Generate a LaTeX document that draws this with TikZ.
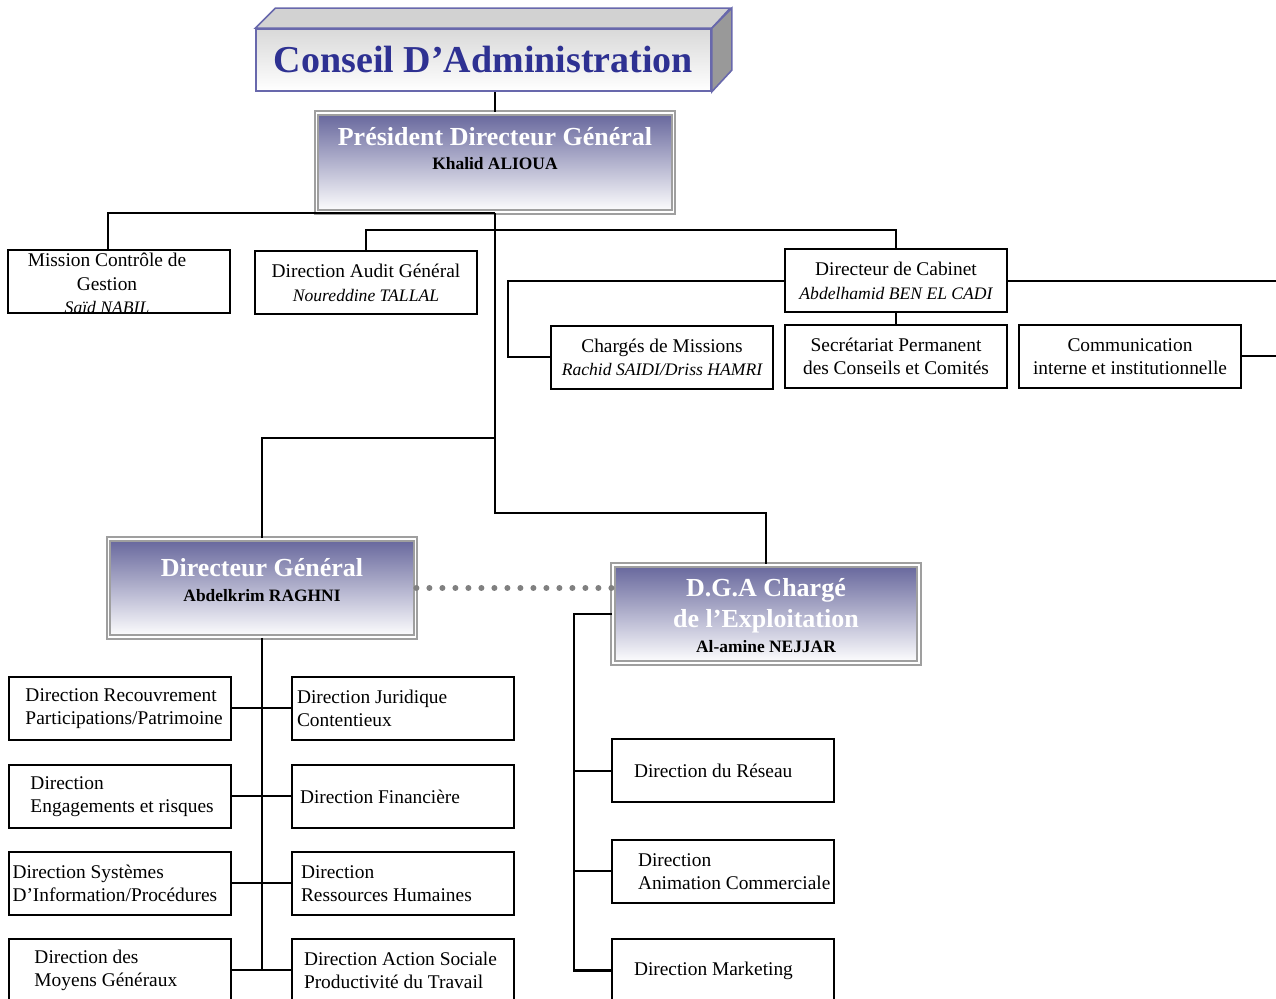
\documentclass[tikz,border=0pt]{standalone}
\usepackage{fontspec}
\setmainfont{Liberation Serif}
\definecolor{slate}{RGB}{102,102,156}
\definecolor{navy}{RGB}{46,49,146}
\definecolor{rim}{RGB}{104,104,172}
\newcommand{\headbox}[3]{\parbox[c][#1][t]{#2}{\centering #3}}
\newcommand{\titfont}{\fontsize{13}{15.5}\selectfont\bfseries}
\newcommand{\persfont}{\fontsize{8.7}{12.25}\selectfont\bfseries}
\newcommand{\persit}[1]{{\fontsize{8.8}{11.75}\selectfont\itshape #1}}

\begin{document}
\begin{tikzpicture}[x=0.5pt, y=-0.5pt, line width=1pt,
    basebox/.style={rectangle, draw=black, line width=1pt, text width=111pt,
        minimum height=31.5pt, inner xsep=0pt, inner ysep=0pt,
        font=\fontsize{9.7}{11.75}\selectfont},
    cbox/.style={basebox, align=flush center},
    lbox/.style={basebox, align=flush left, execute at begin node={\leftskip=#1}},
    chief/.style={rectangle, draw=gray!75, line width=0.9pt, double=white,
        double distance=0.9pt, top color=slate, middle color=slate!45,
        bottom color=white, inner sep=0pt, text=white, font=\titfont},
    board/.style={rectangle, draw=rim, line width=0.8pt, top color=gray!30,
        bottom color=white, minimum width=227.5pt, minimum height=31pt,
        inner sep=0pt, text=navy, font=\fontsize{19}{22}\selectfont\bfseries},
    dotline/.style={draw=gray, line width=3pt, line cap=round,
        dash pattern=on 0pt off 6.5pt}]
\useasboundingbox (0,0) rectangle (1276,999);

\node (ca)[board] at (483.5, 60) {Conseil D’Administration};
\draw [draw=rim, line width=0.8pt, fill=gray!35] (ca.north west) -- ++(20,-20) -- ++(455,0) -- (ca.north east) -- cycle;
\draw [draw=rim, line width=0.8pt, fill=gray!80] (ca.north east) -- ++(20,-20) -- ++(0,62) -- (ca.south east) -- cycle;

\node (pdg)[chief] at (495, 162.5) {\headbox{49.5pt}{178.5pt}{\rule{0pt}{16.25pt}Président Directeur Général\par\persfont\textcolor{black}{Khalid ALIOUA}}};

\node (mcg)[cbox, text depth=21.7pt, execute at begin node={\rightskip=12pt plus 1fil}] at (119, 281.5) {Mission Contrôle de\\Gestion\\\persit{Saïd NABIL}};
\node (dag)[cbox] at (366, 283) {Direction Audit Général\\\persit{Noureddine TALLAL}};
\node (cab)[cbox] at (896, 281) {Directeur de Cabinet\\\persit{Abdelhamid BEN EL CADI}};
\node (cdm)[cbox] at (662, 357.5) {Chargés de Missions\\\persit{Rachid SAIDI/Driss HAMRI}};
\node (spc)[cbox] at (896, 356.5) {Secrétariat Permanent\\des Conseils et Comités};
\node (com)[cbox] at (1130, 356.5) {Communication\\interne et institutionnelle};
\coordinate (e1) at (1276, 281);
\coordinate (e2) at (1276, 356.5);

\node (dg)[chief] at (262, 588) {\headbox{49pt}{153.5pt}{\rule{0pt}{19pt}Directeur Général\par\persfont\textcolor{black}{Abdelkrim RAGHNI}}};
\node (dga)[chief] at (766, 614) {\headbox{49pt}{153pt}{\rule{0pt}{16pt}D.G.A Chargé\\de l’Exploitation\par\persfont\textcolor{black}{Al-amine NEJJAR}}};

\node (drp)[lbox=8.5pt] at (119.5, 708.5) {Direction Recouvrement\\Participations/Patrimoine};
\node (der)[lbox=11pt] at (119.5, 796.5) {Direction\\Engagements et risques};
\node (dsi)[lbox=2pt] at (119.5, 883.5) {Direction Systèmes\\D’Information/Procédures};
\node (dmg)[lbox=13pt] at (119.5, 970.5) {Direction des\\Moyens Généraux};
\node (djc)[lbox=2.5pt] at (403, 708.5) {Direction Juridique\\Contentieux};
\node (dfi)[lbox=4pt] at (403, 796.5) {Direction Financière};
\node (drh)[lbox=4.5pt] at (403, 883.5) {Direction\\Ressources Humaines};
\node (das)[lbox=6pt] at (403, 970.5) {Direction Action Sociale\\Productivité du Travail};

\node (dre)[lbox=11pt] at (723, 771) {Direction du Réseau};
\node (dac)[lbox=13pt] at (723, 871.5) {Direction\\Animation Commerciale};
\node (dma)[lbox=11pt] at (723, 970.5) {Direction Marketing};

\draw (ca.south -| pdg.north) -- (pdg.north);
\draw ([xshift=-5.5pt]mcg.north) |- (pdg.south);
\draw (pdg.south) -- ++(0,225) -| (dg.north);
\draw (pdg.south) -- ++(0,300) -| (dga.north);
\draw (dag.north) -- ++(0,-20) -| (cab.north);
\draw (cab.west) -- ++(-276,0) |- (cdm.west);
\draw (cab.east) -- (e1);
\draw (cab.south) -- (spc.north);
\draw (com.east) -- (e2);

\draw [dotline] (dg.east) -- (dg.east -| dga.west);

\draw (dg.south) -- (dg.south |- dmg.east);
\draw (drp.east) -- (djc.west);
\draw (der.east) -- (dfi.west);
\draw (dsi.east) -- (drh.west);
\draw (dmg.east) -- (das.west);

\draw [line width=1.3pt] (dga.west) -- ++(-38,0) |- (dma.west);
\draw (dga.west) ++(-38,0) |- (dre.west);
\draw (dga.west) ++(-38,0) |- (dac.west);
\end{tikzpicture}
\end{document}
